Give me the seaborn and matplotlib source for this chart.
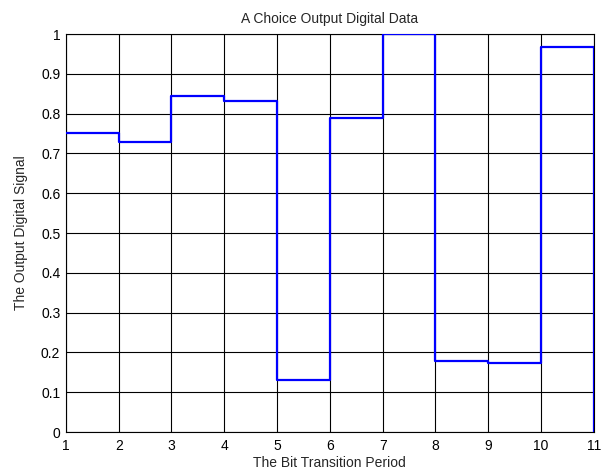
import numpy as np
import pandas as pd
import seaborn as sns
import matplotlib
matplotlib.use("Agg")
import matplotlib.pyplot as plt

# Data (stairs: each value holds until the next period)
periods = [1, 2, 3, 4, 5, 6, 7, 8, 9, 10, 11]
signal = [0.752, 0.728, 0.845, 0.833, 0.131, 0.790, 1.0, 0.178, 0.173, 0.968, 0.0]
x_ticks = list(range(1, 12))
y_ticks = [0, 0.1, 0.2, 0.3, 0.4, 0.5, 0.6, 0.7, 0.8, 0.9, 1]
y_labels = ["0", "0.1", "0.2", "0.3", "0.4", "0.5", "0.6", "0.7", "0.8", "0.9", "1"]

df = pd.DataFrame({"period": periods, "signal": signal})

sns.set_style("white")
plt.rcParams["font.family"] = ["Liberation Sans", "DejaVu Sans"]

fig = plt.figure(figsize=(6.16, 4.72), dpi=100)
ax = fig.add_axes([0.107, 0.0847, 0.857, 0.843])

sns.lineplot(data=df, x="period", y="signal", drawstyle="steps-post",
             color="#0000ff", linewidth=1.6, ax=ax, zorder=3)

ax.set_xlim(1, 11)
ax.set_ylim(0, 1)
ax.set_xticks(x_ticks)
ax.set_yticks(y_ticks)
ax.set_yticklabels(y_labels)
ax.grid(True, color="black", linestyle="-", linewidth=0.8)
ax.tick_params(direction="in", length=0, labelsize=10, colors="black")
ax.tick_params(axis="x", pad=5)
ax.tick_params(axis="y", pad=4)
for s in ax.spines.values():
    s.set_color("black")
    s.set_linewidth(0.8)

ax.set_title("A Choice Output Digital Data", fontsize=10, pad=8)
ax.set_xlabel("The Bit Transition Period", fontsize=10, labelpad=2)
ax.set_ylabel("The Output Digital Signal", fontsize=10, labelpad=9)

fig.savefig("out.png", dpi=100, facecolor="white")
